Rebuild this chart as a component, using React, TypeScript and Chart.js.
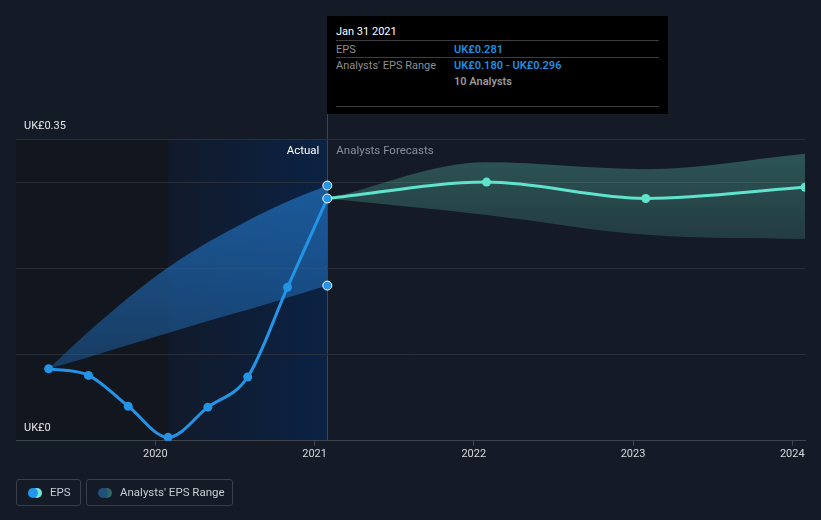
import React, { useEffect, useRef } from "react";
import { Chart, registerables } from "chart.js";

Chart.register(...registerables);

const actualDates = [2019.33, 2019.58, 2019.83, 2020.08, 2020.33, 2020.58, 2020.83, 2021.08];
const actualEps = [0.0835, 0.0758, 0.04, 0.004, 0.039, 0.074, 0.178, 0.281];
const pastRangeHigh = [0.0835, 0.1264, 0.166, 0.201, 0.2302, 0.2553, 0.2775, 0.296];
const pastRangeLow = [0.0835, 0.097, 0.111, 0.125, 0.139, 0.152, 0.166, 0.18];
const forecastDates = [2021.08, 2022.08, 2023.08, 2024.08];
const forecastEps = [0.281, 0.3, 0.281, 0.294];
const forecastHigh = [0.281, 0.323, 0.315, 0.333];
const forecastLow = [0.281, 0.262, 0.239, 0.234];
const rangeMarkerDates = [2021.08, 2021.08];
const rangeMarkerValues = [0.296, 0.18];
const yearTicks = [2020, 2021, 2022, 2023, 2024];
const yGridValues = [0, 0.1, 0.2, 0.3, 0.35];
const yLabelValues = [0, 0.35];
const highlightStart = 2020.08;
const nowDate = 2021.08;

const BG = "#151b26";
const EPS_BLUE = "#2394e6";
const TEAL = "#60e3cd";

const pts = (xs: number[], ys: number[]) => xs.map((x, i) => ({ x, y: ys[i] }));

const yLabel = (v: number) => (v === 0 ? "UK£0" : "UK£" + v.toFixed(2));

const regionsPlugin = {
  id: "regions",
  beforeDraw(chart: any) {
    const { ctx, chartArea, scales } = chart;
    if (!chartArea) return;
    const x = scales.x;
    const xs = x.getPixelForValue(highlightStart);
    const xn = x.getPixelForValue(nowDate);
    ctx.save();
    ctx.fillStyle = "#12161e";
    ctx.fillRect(chartArea.left, chartArea.top, xs - chartArea.left, chartArea.bottom - chartArea.top);
    const g = ctx.createLinearGradient(xs, 0, xn, 0);
    g.addColorStop(0, "#111a2a");
    g.addColorStop(1, "#0b2244");
    ctx.fillStyle = g;
    ctx.fillRect(xs, chartArea.top, xn - xs, chartArea.bottom - chartArea.top);
    ctx.fillStyle = "#1b4a85";
    ctx.fillRect(Math.round(xn), 114, 1, chartArea.bottom - 114);
    ctx.restore();
  },
  afterDatasetsDraw(chart: any) {
    const { ctx, scales, chartArea } = chart;
    const xn = scales.x.getPixelForValue(nowDate);
    ctx.save();
    ctx.font = "11.5px Roboto";
    ctx.textBaseline = "middle";
    ctx.textAlign = "right";
    ctx.fillStyle = "#ffffff";
    ctx.fillText("Actual", xn - 8, 151);
    ctx.textAlign = "left";
    ctx.fillStyle = "#8a8f97";
    ctx.fillText("Analysts Forecasts", xn + 9, 151);
    ctx.font = "11px Roboto";
    ctx.fillStyle = "#e6e6e6";
    yLabelValues.forEach((v) => {
      ctx.fillText(yLabel(v), chartArea.left + 8, scales.y.getPixelForValue(v) - 12.5);
    });
    ctx.restore();
  },
};

function gradientFill(topVal: number, botVal: number, rgb: string, aTop: number, aBot: number) {
  return (context: any) => {
    const chart = context.chart;
    const { ctx, chartArea, scales } = chart;
    if (!chartArea || !scales.y) return `rgba(${rgb},${aTop})`;
    const y0 = scales.y.getPixelForValue(topVal);
    const y1 = scales.y.getPixelForValue(botVal);
    const g = ctx.createLinearGradient(0, y0, 0, y1);
    g.addColorStop(0, `rgba(${rgb},${aTop})`);
    g.addColorStop(1, `rgba(${rgb},${aBot})`);
    return g;
  };
}

function EpsChart() {
  const ref = useRef<HTMLCanvasElement | null>(null);
  useEffect(() => {
    if (!ref.current) return;
    Chart.defaults.font.family = "Roboto";
    const last = actualDates.length - 1;
    const chart = new Chart(ref.current, {
      type: "line",
      data: {
        datasets: [
          {
            label: "pastHigh",
            data: pts(actualDates, pastRangeHigh),
            borderWidth: 0,
            pointRadius: 0,
            fill: "+1",
            backgroundColor: gradientFill(0.296, 0.0835, "30,100,170", 0.85, 0.48),
            cubicInterpolationMode: "monotone",
            order: 10,
          },
          {
            label: "pastLow",
            data: pts(actualDates, pastRangeLow),
            borderWidth: 0,
            pointRadius: 0,
            fill: false,
            cubicInterpolationMode: "monotone",
            order: 11,
          },
          {
            label: "fcHigh",
            data: pts(forecastDates, forecastHigh),
            borderWidth: 0,
            pointRadius: 0,
            fill: "+1",
            backgroundColor: gradientFill(0.333, 0.234, "92,193,175", 0.35, 0.2),
            cubicInterpolationMode: "monotone",
            order: 12,
          },
          {
            label: "fcLow",
            data: pts(forecastDates, forecastLow),
            borderWidth: 0,
            pointRadius: 0,
            fill: false,
            cubicInterpolationMode: "monotone",
            order: 13,
          },
          {
            label: "fcEps",
            data: pts(forecastDates, forecastEps),
            borderColor: TEAL,
            borderWidth: 3,
            pointRadius: forecastDates.map((_, i) => (i === 0 ? 0 : 4.5)),
            pointBackgroundColor: TEAL,
            pointBorderWidth: 0,
            fill: false,
            cubicInterpolationMode: "monotone",
            order: 2,
          },
          {
            label: "EPS",
            data: pts(actualDates, actualEps),
            borderColor: EPS_BLUE,
            borderWidth: 3,
            pointRadius: 4.5,
            pointBackgroundColor: EPS_BLUE,
            pointBorderColor: actualDates.map((_, i) => (i === last ? "#ffffff" : EPS_BLUE)),
            pointBorderWidth: actualDates.map((_, i) => (i === last ? 1 : 0)),
            fill: false,
            cubicInterpolationMode: "monotone",
            order: 1,
          },
          {
            label: "rangeMarkers",
            data: pts(rangeMarkerDates, rangeMarkerValues),
            showLine: false,
            pointRadius: 4.5,
            pointBackgroundColor: EPS_BLUE,
            pointBorderColor: "#ffffff",
            pointBorderWidth: 1,
            fill: false,
            order: 0,
          },
        ],
      },
      options: {
        animation: false,
        responsive: false,
        events: [],
        layout: { padding: { left: 16, right: 16, top: 139, bottom: 57 } },
        plugins: {
          legend: { display: false },
          tooltip: { enabled: false },
        },
        scales: {
          x: {
            type: "linear",
            min: 2019.125,
            max: 2024.08,
            afterBuildTicks: (axis: any) => {
              axis.ticks = yearTicks.map((v) => ({ value: v }));
            },
            ticks: {
              callback: (v: any) => String(v),
              color: "#d6d8db",
              font: { size: 11 },
              padding: 2,
              autoSkip: false,
              maxRotation: 0,
            },
            grid: { drawOnChartArea: false, drawTicks: true, tickLength: 5, color: "#40454f" },
            border: { display: true, color: "#40454f" },
          },
          y: {
            type: "linear",
            min: 0,
            max: 0.35,
            afterBuildTicks: (axis: any) => {
              axis.ticks = yGridValues.map((v) => ({ value: v }));
            },
            ticks: { display: false },
            grid: { drawTicks: false, color: "#2a303b" },
            border: { display: false },
          },
        },
      },
      plugins: [regionsPlugin],
    } as any);
    return () => chart.destroy();
  }, []);
  return <canvas ref={ref} width={821} height={520} style={{ position: "absolute", left: 0, top: 0 }} />;
}

const tipText: React.CSSProperties = { position: "absolute", fontSize: 11, lineHeight: "13px", whiteSpace: "nowrap" };

export default function App() {
  useEffect(() => {
    document.body.style.margin = "0";
  }, []);
  return (
    <div
      style={{
        position: "absolute",
        left: 0,
        top: 0,
        width: 821,
        height: 520,
        background: BG,
        fontFamily: "Roboto, sans-serif",
        overflow: "hidden",
      }}
    >
      <EpsChart />
      <div style={{ position: "absolute", left: 327, top: 16, width: 341, height: 98, background: "#000" }}>
        <span style={{ ...tipText, left: 9, top: 9, color: "#ffffff" }}>Jan 31 2021</span>
        <div style={{ position: "absolute", left: 9, top: 24, width: 323, height: 1, background: "#3d3d3d" }} />
        <span style={{ ...tipText, left: 9, top: 27, color: "#8e8e8e" }}>EPS</span>
        <span style={{ ...tipText, left: 127, top: 27, color: "#1f8fe0", fontWeight: 600 }}>UK£0.281</span>
        <div style={{ position: "absolute", left: 9, top: 41, width: 323, height: 1, background: "#3d3d3d" }} />
        <span style={{ ...tipText, left: 9, top: 43, color: "#8e8e8e" }}>Analysts' EPS Range</span>
        <span style={{ ...tipText, left: 127, top: 43, color: "#1f8fe0", fontWeight: 600 }}>UK£0.180 - UK£0.296</span>
        <span style={{ ...tipText, left: 127, top: 59, color: "#9a9a9a", fontWeight: 600 }}>10 Analysts</span>
        <div style={{ position: "absolute", left: 9, top: 90, width: 323, height: 1, background: "#3d3d3d" }} />
      </div>
      <div
        style={{
          position: "absolute",
          left: 16,
          top: 479,
          width: 63,
          height: 25,
          border: "1px solid #3a404b",
          borderRadius: 3,
        }}
      >
        <div style={{ position: "absolute", left: 15, top: 8, width: 10, height: 10, borderRadius: 5, background: "#6fe6d4" }} />
        <div style={{ position: "absolute", left: 11, top: 8, width: 10, height: 10, borderRadius: 5, background: "#2196ef" }} />
        <span style={{ ...tipText, left: 33, top: 6, color: "#c8cdd3", fontSize: 11.5 }}>EPS</span>
      </div>
      <div
        style={{
          position: "absolute",
          left: 86,
          top: 479,
          width: 145,
          height: 25,
          border: "1px solid #3a404b",
          borderRadius: 3,
        }}
      >
        <div style={{ position: "absolute", left: 15, top: 8, width: 10, height: 10, borderRadius: 5, background: "#2f6566" }} />
        <div style={{ position: "absolute", left: 11, top: 8, width: 10, height: 10, borderRadius: 5, background: "#21507a" }} />
        <span style={{ ...tipText, left: 33, top: 6, color: "#c8cdd3", fontSize: 11.5 }}>Analysts' EPS Range</span>
      </div>
    </div>
  );
}
